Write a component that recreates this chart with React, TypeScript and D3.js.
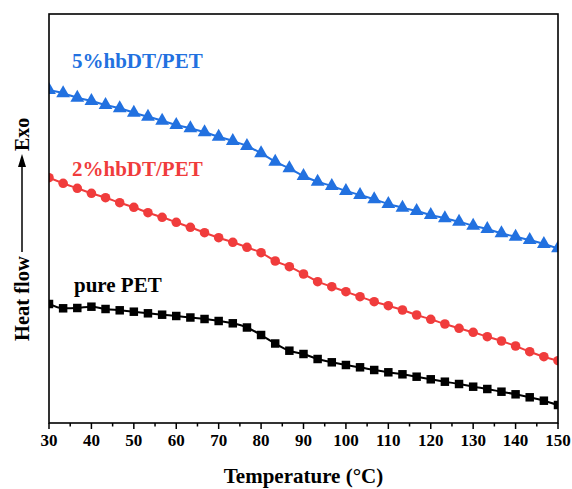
import React from "react";
import * as d3 from "d3";

// Temperature grid (°C) of the plotted points
const temperatures = [
  30, 33.33, 36.67, 40, 43.33, 46.67, 50, 53.33, 56.67, 60, 63.33, 66.67, 70,
  73.33, 76.67, 80, 83.33, 86.67, 90, 93.33, 96.67, 100, 103.33, 106.67, 110,
  113.33, 116.67, 120, 123.33, 126.67, 130, 133.33, 136.67, 140, 143.33,
  146.67, 150,
];

// Heat flow (a.u., offset curves)
const hbdt5 = [
  3.33, 3.297, 3.253, 3.22, 3.18, 3.147, 3.103, 3.063, 3.023, 2.98, 2.947,
  2.907, 2.863, 2.82, 2.77, 2.697, 2.613, 2.547, 2.47, 2.413, 2.37, 2.32, 2.28,
  2.237, 2.19, 2.153, 2.12, 2.08, 2.047, 2.013, 1.973, 1.94, 1.897, 1.863,
  1.83, 1.79, 1.747,
];
const hbdt2 = [
  2.453, 2.397, 2.347, 2.297, 2.253, 2.203, 2.157, 2.103, 2.057, 2.007, 1.957,
  1.903, 1.853, 1.807, 1.757, 1.703, 1.62, 1.563, 1.49, 1.413, 1.363, 1.313,
  1.263, 1.213, 1.173, 1.13, 1.08, 1.037, 0.99, 0.947, 0.907, 0.863, 0.82,
  0.77, 0.713, 0.663, 0.623,
];
const purePET = [
  1.19, 1.147, 1.15, 1.163, 1.14, 1.127, 1.113, 1.097, 1.083, 1.07, 1.055,
  1.04, 1.02, 0.997, 0.955, 0.88, 0.795, 0.723, 0.69, 0.64, 0.607, 0.58,
  0.557, 0.53, 0.507, 0.487, 0.463, 0.437, 0.413, 0.39, 0.363, 0.34, 0.313,
  0.287, 0.257, 0.223, 0.18,
];

const xTicks = [30, 40, 50, 60, 70, 80, 90, 100, 110, 120, 130, 140, 150];
const xMinorTicks = [35, 45, 55, 65, 75, 85, 95, 105, 115, 125, 135, 145];

const seriesNames = ["5%hbDT/PET", "2%hbDT/PET", "pure PET"];

const W = 572;
const H = 489;
const left = 49;
const right = 558;
const top = 14;
const bottom = 423;

const FONT = "'Liberation Serif', 'Times New Roman', serif";

export default function App() {
  const x = d3.scaleLinear().domain([30, 150]).range([left, right]);
  const y = d3.scaleLinear().domain([0, 4.09]).range([bottom, top]);

  const series = [
    { name: seriesNames[0], values: hbdt5, color: "#2271E0", symbol: d3.symbolTriangle, size: 82, label: [72, 68] },
    { name: seriesNames[1], values: hbdt2, color: "#F03C3C", symbol: d3.symbolCircle, size: 72, label: [72, 176] },
    { name: seriesNames[2], values: purePET, color: "#000000", symbol: d3.symbolSquare, size: 72, label: [74, 292] },
  ];

  const line = d3
    .line<number>()
    .x((_, i) => x(temperatures[i]))
    .y((d) => y(d))
    .curve(d3.curveMonotoneX);

  return (
    <svg width={W} height={H} style={{ display: "block", position: "absolute", left: 0, top: 0 }} fontFamily={FONT}>
      <defs>
        <clipPath id="plotclip">
          <rect x={left} y={top} width={right - left} height={bottom - top} />
        </clipPath>
      </defs>
      <rect x={0} y={0} width={W} height={H} fill="#fff" />
      <g clipPath="url(#plotclip)">
        {series.map((s) => (
          <g key={s.name}>
            <path d={line(s.values) || ""} fill="none" stroke={s.color} strokeWidth={2} />
            {s.values.map((v, i) => (
              <path
                key={i}
                d={d3.symbol().type(s.symbol).size(s.size)() || ""}
                transform={`translate(${x(temperatures[i])},${y(v)})`}
                fill={s.color}
              />
            ))}
          </g>
        ))}
      </g>
      {/* frame */}
      <rect x={left} y={top} width={right - left} height={bottom - top} fill="none" stroke="#000" strokeWidth={1.6} />
      {/* x ticks */}
      {xTicks.map((t) => (
        <g key={t}>
          <line x1={x(t)} x2={x(t)} y1={bottom} y2={bottom + 6} stroke="#000" strokeWidth={1.5} />
          <text x={x(t)} y={446} textAnchor="middle" fontSize={17} fontWeight="bold">
            {t}
          </text>
        </g>
      ))}
      {xMinorTicks.map((t) => (
        <line key={t} x1={x(t)} x2={x(t)} y1={bottom} y2={bottom + 3.5} stroke="#000" strokeWidth={1.5} />
      ))}
      <text x={(left + right) / 2} y={483} textAnchor="middle" fontSize={21} fontWeight="bold">
        Temperature (°C)
      </text>
      {/* y label */}
      <text transform="translate(29,341) rotate(-90)" fontSize={20.5} fontWeight="bold" textAnchor="start">
        Heat flow
      </text>
      <line x1={22} x2={22} y1={252} y2={164} stroke="#000" strokeWidth={1.5} />
      <path d="M22,154 L18,167 L26,167 Z" fill="#000" />
      <text transform="translate(29,151) rotate(-90)" fontSize={20} fontWeight="bold" textAnchor="start">
        Exo
      </text>
      {/* series labels */}
      {series.map((s) => (
        <text key={s.name} x={s.label[0]} y={s.label[1]} fontSize={21} fontWeight="bold" fill={s.color}>
          {s.name}
        </text>
      ))}
    </svg>
  );
}
